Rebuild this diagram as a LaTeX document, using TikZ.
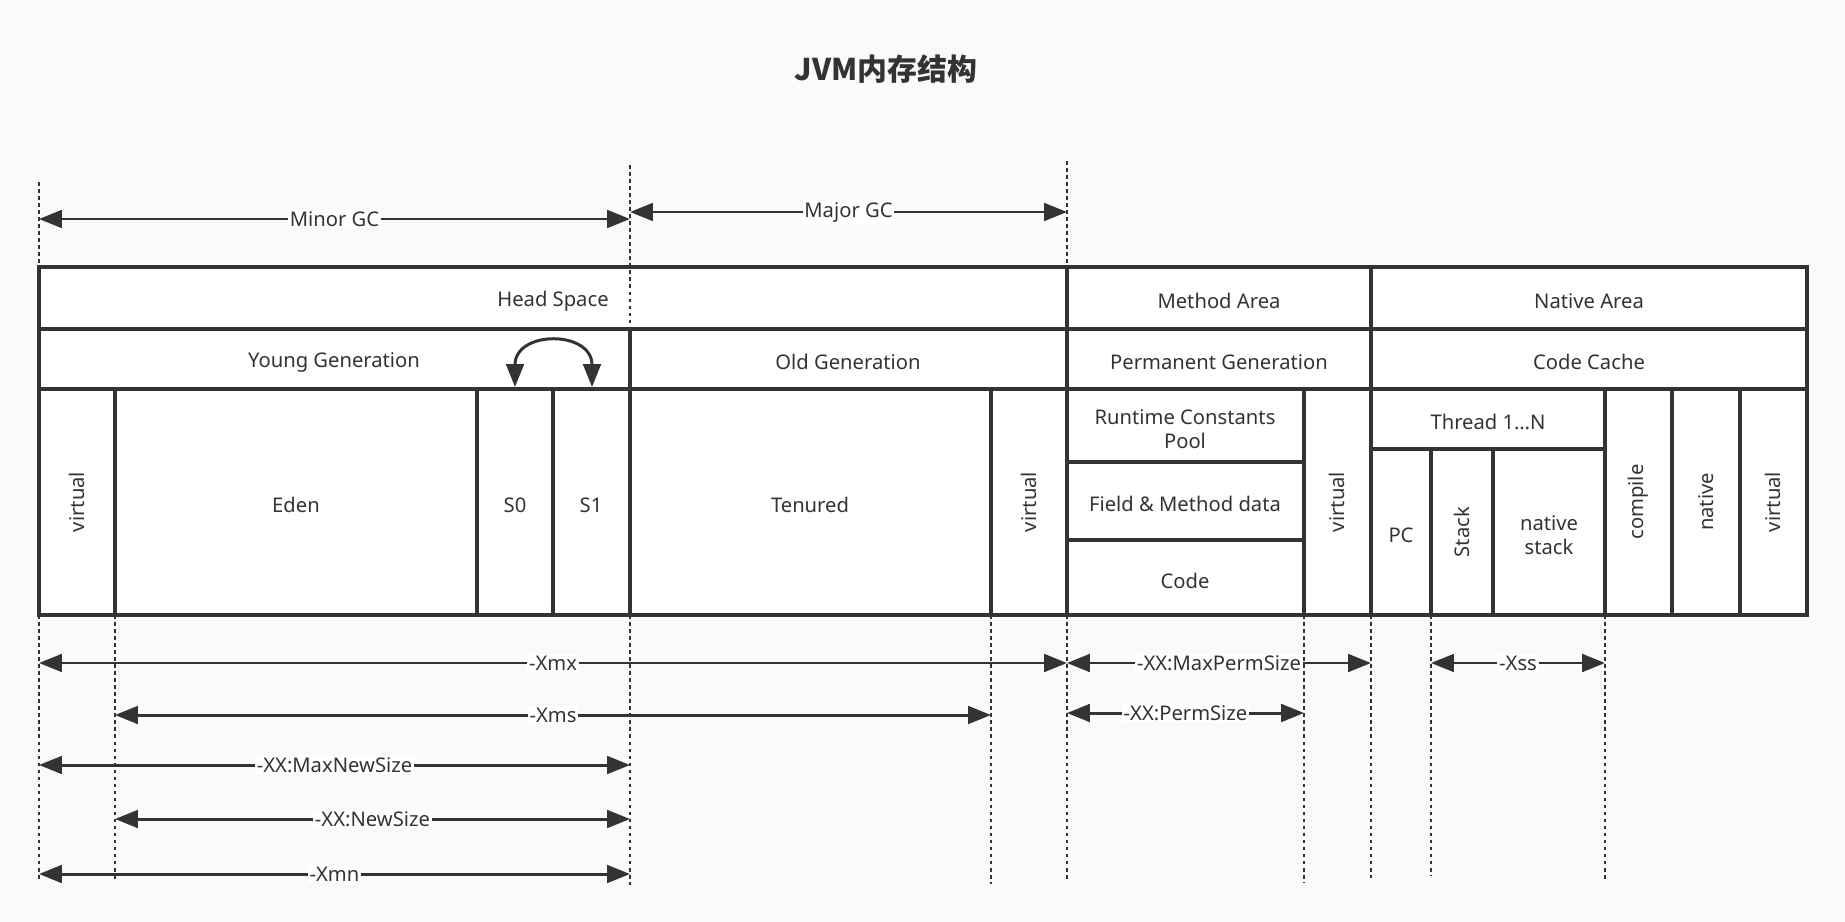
\documentclass[tikz,border=0pt]{standalone}
\usepackage{fontspec}
\setmainfont{Noto Sans}
\newfontfamily\cjk{Noto Sans CJK SC}
\usetikzlibrary{arrows.meta}
\definecolor{ink}{HTML}{333333}
\definecolor{paper}{HTML}{FAFAFA}

\begin{document}
\begin{tikzpicture}[x=0.02cm, y=-0.02cm,
    box/.style={draw=ink, line width=1.8pt},
    guide/.style={draw=ink, line width=1.1pt, dash pattern=on 2pt off 2pt},
    dim/.style={draw=ink, line width=1.7pt,
        {Triangle[length=13pt,width=10pt]}-{Triangle[length=13pt,width=10pt]}},
    base/.style={text=ink, align=center, inner sep=1pt,
        font=\fontsize{11.5}{14}\selectfont},
    txt/.style={base, yshift=-1.7pt},
    vtxt/.style={base, rotate=90},
    lbl/.style={base, fill=white}]
    % 背景
    \fill[paper] (0,0) rectangle (1845,922);
    \fill[white] (39,267) rectangle (1807,615);

    % 标题
    \node[text=ink, font=\cjk\bfseries\fontsize{17}{20}\selectfont] (title) at (886,69) {JVM内存结构};

    % 外框与横线
    \draw[box] (39,267) rectangle (1807,615);
    \draw[box] (39,329) -- (1807,329);
    \draw[box] (39,389) -- (1807,389);
    % 竖线
    \draw[box] (1067,267) -- (1067,615);
    \draw[box] (1371,267) -- (1371,615);
    \draw[box] (630,329) -- (630,615);
    \foreach \x in {115,477,553,991,1304,1605,1672,1740}
        \draw[box] (\x,389) -- (\x,615);
    \draw[box] (1431,449) -- (1431,615);
    \draw[box] (1493,449) -- (1493,615);
    % 永久代与线程的分隔
    \draw[box] (1067,462) -- (1304,462);
    \draw[box] (1067,540) -- (1304,540);
    \draw[box] (1371,449) -- (1605,449);

    % 第一、二行
    \node[txt] (head) at (553,298) {Head Space};
    \node[txt] (method) at (1219,298) {Method Area};
    \node[txt] (nativearea) at (1589,298) {Native Area};
    \node[txt] (young) at (334,359) {Young Generation};
    \node[txt] (old) at (848,359) {Old Generation};
    \node[txt] (perm) at (1219,359) {Permanent Generation};
    \node[txt] (codecache) at (1589,359) {Code Cache};

    % 堆内单元
    \node[vtxt] (virtualA) at (77,502) {virtual};
    \node[txt] (eden) at (296,502) {Eden};
    \node[txt] (s0) at (515,502) {S0};
    \node[txt] (s1) at (591,502) {S1};
    \node[txt] (tenured) at (810,502) {Tenured};
    \node[vtxt] (virtualB) at (1029,502) {virtual};
    % 方法区单元
    \node[txt] (runtime) at (1185,426) {Runtime Constants\\Pool};
    \node[txt] (field) at (1185,501) {Field \& Method data};
    \node[txt] (code) at (1185,578) {Code};
    \node[vtxt] (virtualC) at (1337,502) {virtual};
    % 本地区单元
    \node[txt] (thread) at (1488,419) {Thread 1…N};
    \node[txt] (pc) at (1401,532) {PC};
    \node[vtxt] (stack) at (1462,532) {Stack};
    \node[txt] (nstack) at (1549,532) {native\\stack};
    \node[vtxt] (compile) at (1638,502) {compile};
    \node[vtxt] (native) at (1706,502) {native};
    \node[vtxt] (virtualD) at (1773,502) {virtual};

    % S0 与 S1 之间的交换
    \coordinate (swapL) at (515,387);
    \coordinate (swapR) at (592,387);
    \draw[dim] (swapL) .. controls (515,330) and (592,330) .. (swapR);

    % 上方虚线及 GC 范围
    \draw[guide] (39,182) -- (39,267);
    \draw[guide] (630,165) -- (630,329);
    \draw[guide] (1067,161) -- (1067,267);
    \coordinate (minorL) at (39,219);
    \coordinate (minorR) at (630,219);
    \coordinate (majorL) at (630,212);
    \coordinate (majorR) at (1067,212);
    \draw[dim] (minorL) -- (minorR) node[midway, lbl] (minor) {Minor GC};
    \draw[dim] (majorL) -- (majorR) node[midway, lbl] (major) {Major GC};

    % 下方虚线
    \foreach \n/\x/\y in {gA/39/882, gB/115/882, gE/630/885, gF/991/884, gG/1067/882,
                          gH/1304/883, gI/1371/878, gJ/1431/876, gL/1605/882} {
        \coordinate (\n) at (\x,615);
        \draw[guide] (\n) -- (\x,\y);
    }
    % 各参数所在的高度
    \coordinate (rowXmx) at (0,663);
    \coordinate (rowXms) at (0,715);
    \coordinate (rowPerm) at (0,713);
    \coordinate (rowMaxNew) at (0,765);
    \coordinate (rowNew) at (0,819);
    \coordinate (rowXmn) at (0,874);

    % 参数范围
    \draw[dim] (gA |- rowXmx) -- (gG |- rowXmx) node[midway, lbl] (xmx) {-Xmx};
    \draw[dim] (gB |- rowXms) -- (gF |- rowXms) node[midway, lbl] (xms) {-Xms};
    \draw[dim] (gA |- rowMaxNew) -- (gE |- rowMaxNew) node[midway, lbl] (maxnew) {-XX:MaxNewSize};
    \draw[dim] (gB |- rowNew) -- (gE |- rowNew) node[midway, lbl] (newsize) {-XX:NewSize};
    \draw[dim] (gA |- rowXmn) -- (gE |- rowXmn) node[midway, lbl] (xmn) {-Xmn};
    \draw[dim] (gG |- rowXmx) -- (gI |- rowXmx) node[midway, lbl] (maxperm) {-XX:MaxPermSize};
    \draw[dim] (gG |- rowPerm) -- (gH |- rowPerm) node[midway, lbl] (permsize) {-XX:PermSize};
    \draw[dim] (gJ |- rowXmx) -- (gL |- rowXmx) node[midway, lbl] (xss) {-Xss};
\end{tikzpicture}
\end{document}
